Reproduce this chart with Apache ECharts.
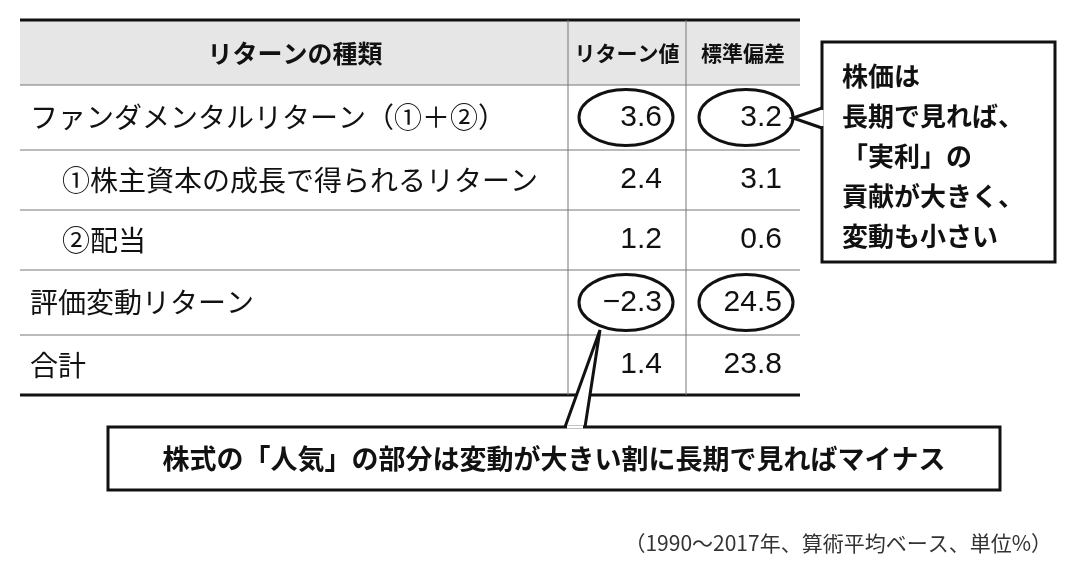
<!DOCTYPE html>
<html><head><meta charset="utf-8">
<script src="https://cdn.jsdelivr.net/npm/echarts@6/dist/echarts.min.js"></script>
<style>html,body{margin:0;padding:0;background:#fff}#c{width:1080px;height:568px}</style>
</head><body><div id="c"></div>
<script>
const headers = ['リターンの種類', 'リターン値', '標準偏差'];
const rowLabels = ['ファンダメンタルリターン（①＋②）', '①株主資本の成長で得られるリターン', '②配当', '評価変動リターン', '合計'];
const returnValues = ['3.6', '2.4', '1.2', '−2.3', '1.4'];
const stdValues = ['3.2', '3.1', '0.6', '24.5', '23.8'];
const circledReturn = [true, false, false, true, false];
const circledStd = [true, false, false, true, false];
const noteRight = ['株価は', '長期で見れば、', '「実利」の', '貢献が大きく、', '変動も小さい'];
const noteBottom = '株式の「人気」の部分は変動が大きい割に長期で見ればマイナス';
const footnote = '（1990〜2017年、算術平均ベース、単位%）';

const F = '"Noto Sans CJK JP","Noto Sans",sans-serif';
const N = '"Liberation Sans",Arial,sans-serif';
const chart = echarts.init(document.getElementById('c'));
const rowTops = [85, 150, 210, 270, 335, 395];
const indent = [30, 62, 62, 30, 30];
const els = [];
els.push({type:'rect', shape:{x:20,y:20,width:780,height:65}, style:{fill:'#e6e6e6'}});
els.push({type:'line', shape:{x1:20,y1:20,x2:800,y2:20}, style:{stroke:'#111',lineWidth:3}});
els.push({type:'line', shape:{x1:20,y1:395,x2:800,y2:395}, style:{stroke:'#111',lineWidth:3}});
for (let i=0;i<rowTops.length-1;i++) els.push({type:'line', shape:{x1:20,y1:rowTops[i],x2:800,y2:rowTops[i]}, style:{stroke:'#777',lineWidth:1}});
[568,686].forEach(x=>els.push({type:'line', shape:{x1:x,y1:20,x2:x,y2:395}, style:{stroke:'#777',lineWidth:1}}));
const hx=[295,627,743], hs=[25,21,21];
headers.forEach((h,i)=>els.push({type:'text', style:{text:h,x:hx[i],y:53,align:'center',verticalAlign:'middle',font:`bold ${hs[i]}px ${F}`,fill:'#111'}}));
rowLabels.forEach((l,i)=>{
  const cy=(rowTops[i]+rowTops[i+1])/2;
  els.push({type:'text', style:{text:l,x:indent[i],y:cy,verticalAlign:'middle',font:`28px ${F}`,fill:'#111'}});
  els.push({type:'text', style:{text:returnValues[i],x:662,y:cy,align:'right',verticalAlign:'middle',font:`30px ${N}`,fill:'#111'}});
  els.push({type:'text', style:{text:stdValues[i],x:782,y:cy,align:'right',verticalAlign:'middle',font:`30px ${N}`,fill:'#111'}});
  if (circledReturn[i]) els.push({type:'ellipse', shape:{cx:626,cy:cy,rx:47,ry:28}, style:{fill:null,stroke:'#111',lineWidth:3}});
  if (circledStd[i]) els.push({type:'ellipse', shape:{cx:746,cy:cy,rx:47,ry:28}, style:{fill:null,stroke:'#111',lineWidth:3}});
});
els.push({type:'rect', shape:{x:822,y:42,width:233,height:220}, style:{fill:'#fff',stroke:'#111',lineWidth:3}});
els.push({type:'polyline', shape:{points:[[822,108],[793,118],[822,128]]}, style:{fill:'#fff',stroke:'#111',lineWidth:3}});
els.push({type:'line', shape:{x1:822,y1:110,x2:822,y2:126}, style:{stroke:'#fff',lineWidth:3}});
noteRight.forEach((t,i)=>els.push({type:'text', style:{text:t,x:842,y:76+i*40,verticalAlign:'middle',font:`bold 26px ${F}`,fill:'#111'}}));
els.push({type:'polyline', shape:{points:[[565,427],[600,330],[585,427]]}, style:{fill:'#fff',stroke:'#111',lineWidth:3}});
els.push({type:'rect', shape:{x:108,y:427,width:892,height:63}, style:{fill:'#fff',stroke:'#111',lineWidth:3}});
els.push({type:'line', shape:{x1:567,y1:427,x2:583,y2:427}, style:{stroke:'#fff',lineWidth:3}});
els.push({type:'text', style:{text:noteBottom,x:554,y:459,align:'center',verticalAlign:'middle',font:`bold 27px ${F}`,fill:'#111'}});
els.push({type:'text', style:{text:footnote,x:1052,y:543,align:'right',verticalAlign:'middle',font:`21px ${F}`,fill:'#333'}});
chart.setOption({animation:false, graphic:{elements:els}});
</script></body></html>
